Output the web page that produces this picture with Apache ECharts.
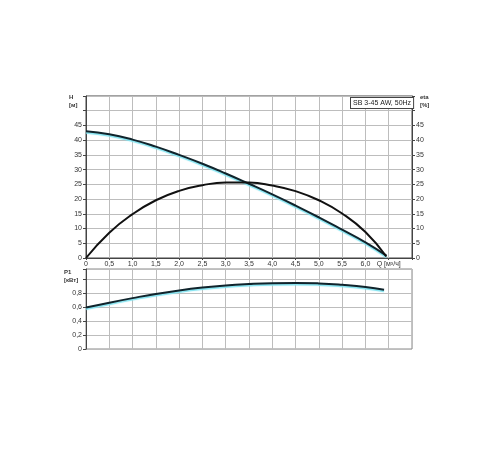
<!DOCTYPE html>
<html><head><meta charset="utf-8">
<script src="https://cdn.jsdelivr.net/npm/echarts@6/dist/echarts.min.js"></script>
<style>html,body{margin:0;padding:0;background:#fff}#c{width:500px;height:450px}</style>
</head><body><div id="c"></div>
<script>
// Flow Q [m3/h]
const qH   = [0, 0.5, 1.0, 1.5, 2.0, 2.5, 3.0, 3.5, 4.0, 4.5, 5.0, 5.5, 6.0, 6.45];
const hVals = [43, 42, 40.2, 37.8, 35, 32, 28.7, 25.2, 21.6, 17.8, 13.8, 9.6, 5.3, 0.8];
const qEta = [0, 0.5, 1.0, 1.5, 2.0, 2.5, 3.0, 3.5, 4.0, 4.5, 5.0, 5.5, 6.0, 6.45];
const etaVals = [0, 8.6, 14.9, 19.6, 22.8, 24.7, 25.6, 25.6, 24.6, 22.7, 19.6, 15.1, 8.8, 0.5];
const qP = [0, 0.5, 1.0, 1.5, 2.0, 2.5, 3.0, 3.5, 4.0, 4.5, 5.0, 5.5, 6.0, 6.4];
const pVals = [0.59, 0.66, 0.725, 0.785, 0.835, 0.875, 0.905, 0.925, 0.938, 0.942, 0.935, 0.915, 0.885, 0.845];
const title = 'SB 3-45 AW, 50Hz';
const qName = 'Q [м³/ч]';

const pairs = (xs, ys) => xs.map((x, i) => [x, ys[i]]);
const fmt = v => v === 0 ? '0' : v.toFixed(1).replace('.', ',');
const font = 'Liberation Sans, Arial, sans-serif';
const lblStyle = {fontSize: 7, color: '#333', fontFamily: font};
const grid = {lineStyle: {color: '#bdbdbd', width: 1}};

const chart = echarts.init(document.getElementById('c'), null, {renderer: 'canvas'});
chart.setOption({
  animation: false,
  grid: [
    {left: 86, right: 88, top: 96, height: 162, show: true, borderColor: '#444', borderWidth: 1},
    {left: 86, right: 88, top: 269, height: 80, show: true, borderColor: '#888', borderWidth: 1}
  ],
  xAxis: [
    {type: 'value', gridIndex: 0, min: 0, max: 7, interval: 0.5,
     axisLine: {show: true, lineStyle: {color: '#444'}}, axisTick: {show: true, length: 2, lineStyle: {color: '#444'}},
     axisLabel: {...lblStyle, margin: 3, formatter: v => v === 6.5 ? qName : (v >= 7 ? '' : fmt(v))},
     splitLine: grid},
    {type: 'value', gridIndex: 1, min: 0, max: 7, interval: 0.5,
     axisLine: {show: false}, axisTick: {show: false}, axisLabel: {show: false},
     splitLine: grid}
  ],
  yAxis: [
    {type: 'value', gridIndex: 0, min: 0, max: 55, interval: 5,
     axisLine: {show: true, lineStyle: {color: '#444'}}, axisTick: {show: true, length: 3, lineStyle: {color: '#444'}},
     axisLabel: {...lblStyle, margin: 4, formatter: v => v > 45 ? '' : String(v)},
     splitLine: grid},
    {type: 'value', gridIndex: 0, min: 0, max: 55, interval: 5, position: 'right',
     axisLine: {show: true, lineStyle: {color: '#444'}}, axisTick: {show: true, length: 3, lineStyle: {color: '#444'}},
     axisLabel: {...lblStyle, margin: 4, formatter: v => v > 45 ? '' : String(v)},
     splitLine: {show: false}},
    {type: 'value', gridIndex: 1, min: 0, max: 1.14, interval: 0.2,
     axisLine: {show: true, lineStyle: {color: '#444'}}, axisTick: {show: true, length: 3, lineStyle: {color: '#444'}},
     axisLabel: {...lblStyle, margin: 4, formatter: v => v > 0.85 ? '' : fmt(v)},
     splitLine: grid}
  ],
  graphic: [
    {type: 'text', z: 100, left: 69, top: 93, style: {text: 'H\n[м]', font: 'bold 6px ' + font, fill: '#333', align: 'center', lineHeight: 8}},
    {type: 'text', z: 100, left: 420, top: 93, style: {text: 'eta\n[%]', font: 'bold 6px ' + font, fill: '#333', align: 'center', lineHeight: 8}},
    {type: 'text', z: 100, left: 64, top: 268, style: {text: 'P1\n[кВт]', font: 'bold 6px ' + font, fill: '#333', align: 'center', lineHeight: 8}},
    {type: 'text', z: 100, left: 350, top: 97, style: {text: title, font: '7px ' + font, fill: '#222',
      backgroundColor: '#fff', borderColor: '#444', borderWidth: 1, padding: [2, 2, 1, 2]}}
  ],
  series: [
    {type: 'line', xAxisIndex: 0, yAxisIndex: 0, data: pairs(qH, hVals), smooth: 0.5, symbol: 'none',
     lineStyle: {color: '#10242c', width: 2, shadowColor: '#7fe3f0', shadowOffsetY: 1.5, shadowBlur: 1}},
    {type: 'line', xAxisIndex: 0, yAxisIndex: 1, data: pairs(qEta, etaVals), smooth: 0.5, symbol: 'none',
     lineStyle: {color: '#111', width: 2}},
    {type: 'line', xAxisIndex: 1, yAxisIndex: 2, data: pairs(qP, pVals), smooth: 0.5, symbol: 'none',
     lineStyle: {color: '#10242c', width: 2, shadowColor: '#7fe3f0', shadowOffsetY: 1.5, shadowBlur: 1}}
  ]
});
</script></body></html>
